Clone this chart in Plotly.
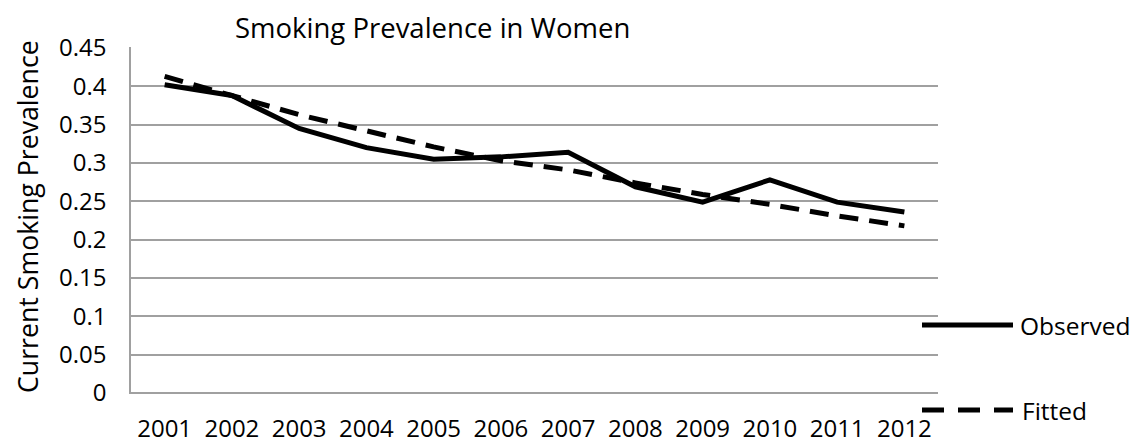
import plotly.graph_objects as go

years = ["2001", "2002", "2003", "2004", "2005", "2006", "2007", "2008", "2009", "2010", "2011", "2012"]
observed = [0.402, 0.388, 0.345, 0.320, 0.305, 0.308, 0.314, 0.269, 0.249, 0.278, 0.249, 0.236]
fitted = [0.413, 0.388, 0.363, 0.342, 0.321, 0.303, 0.291, 0.274, 0.259, 0.246, 0.231, 0.218]
y_ticks = [0, 0.05, 0.1, 0.15, 0.2, 0.25, 0.3, 0.35, 0.4, 0.45]
y_tick_text = ["0", "0.05", "0.1", "0.15", "0.2", "0.25", "0.3", "0.35", "0.4", "0.45"]

FONT = "Open Sans"
TICK = 24
W, H = 1139, 444
L, R, T, B = 131, 201, 47, 50
pw, ph = W - L - R, H - T - B

def px(x):
    return (x - L) / pw

def py(y):
    return (H - B - y) / ph

fig = go.Figure()
fig.add_trace(go.Scatter(x=years, y=observed, mode="lines", name="Observed",
                         line=dict(color="black", width=5), showlegend=False))
fig.add_trace(go.Scatter(x=years, y=fitted, mode="lines", name="Fitted",
                         line=dict(color="black", width=5, dash="19px,11px"), showlegend=False))

fig.update_layout(
    width=W, height=H,
    margin=dict(l=L, r=R, t=T, b=B, pad=0, autoexpand=False),
    paper_bgcolor="white", plot_bgcolor="white",
    font=dict(family=FONT, size=TICK, color="black"),
    xaxis=dict(type="category", range=[-0.5, 11.5], showgrid=False, zeroline=False,
               showline=False,
               ticks="outside", ticklen=13, tickcolor="rgba(0,0,0,0)",
               automargin=False, tickfont=dict(size=TICK, family=FONT)),
    yaxis=dict(range=[-0.0013, 0.4513], tickvals=y_ticks, ticktext=y_tick_text,
               showgrid=True, gridcolor="#a0a0a0", gridwidth=1.5,
               zeroline=True, zerolinecolor="#a0a0a0", zerolinewidth=1.5,
               showline=True, linecolor="#a0a0a0", linewidth=1.5,
               ticks="outside", ticklen=18, tickcolor="rgba(0,0,0,0)",
               automargin=False, tickfont=dict(size=TICK, family=FONT)),
    showlegend=False,
)

annotations = [
    dict(text="Smoking Prevalence in Women", xref="paper", yref="paper",
         x=px(432), y=py(27), xanchor="center", yanchor="middle", showarrow=False,
         font=dict(size=27.5, family=FONT)),
    dict(text="Current Smoking Prevalence", xref="paper", yref="paper",
         x=px(27), y=py(217), xanchor="center", yanchor="middle", showarrow=False,
         textangle=-90, font=dict(size=26.7, family=FONT)),
    dict(text="Observed", xref="paper", yref="paper", x=px(1018), y=py(325),
         xanchor="left", yanchor="middle", showarrow=False, font=dict(size=24.5, family=FONT)),
    dict(text="Fitted", xref="paper", yref="paper", x=px(1020), y=py(410),
         xanchor="left", yanchor="middle", showarrow=False, font=dict(size=24.5, family=FONT)),
]
shapes = [
    dict(type="line", xref="paper", yref="paper", x0=px(922), x1=px(1013), y0=py(325), y1=py(325),
         line=dict(color="black", width=5)),
    dict(type="line", xref="paper", yref="paper", x0=px(922), x1=px(1013), y0=py(410), y1=py(410),
         line=dict(color="black", width=5, dash="22px,14px")),
]
fig.update_layout(annotations=annotations, shapes=shapes)

fig.write_html("out.html", config={"displayModeBar": False},
               post_script="document.body.style.margin='0';document.body.style.overflow='hidden';")
